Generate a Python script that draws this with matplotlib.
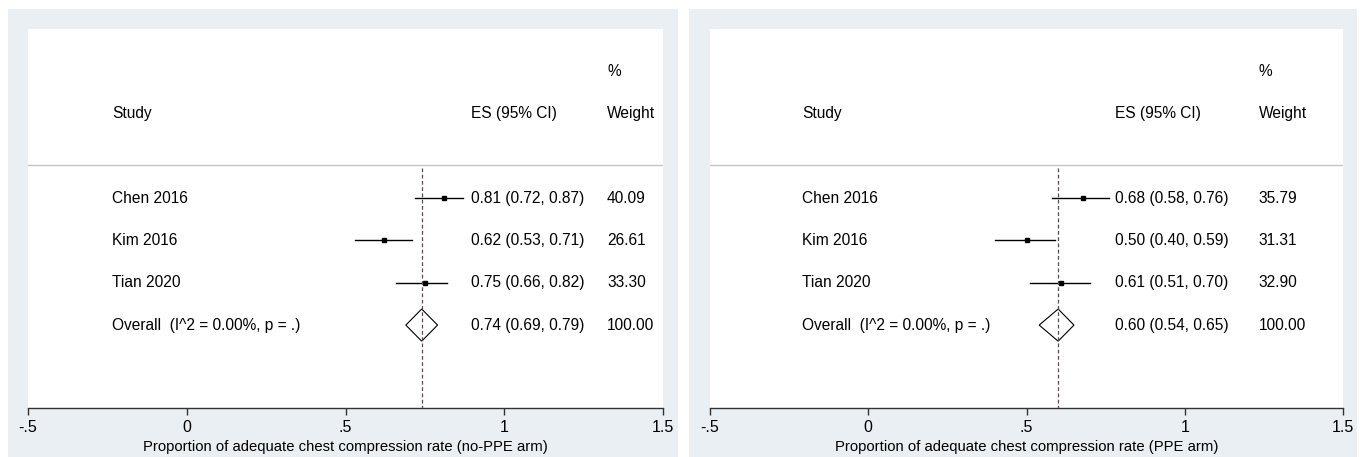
import matplotlib.pyplot as plt
from matplotlib.patches import Rectangle, Polygon
from matplotlib.transforms import blended_transform_factory

plt.rcParams['font.family'] = ['Liberation Sans', 'DejaVu Sans']

# study-level estimates, 95% CI and weights for each arm
studies = ['Chen 2016', 'Kim 2016', 'Tian 2020']

nopp_es = [0.81, 0.62, 0.75]
nopp_lo = [0.72, 0.53, 0.66]
nopp_hi = [0.87, 0.71, 0.82]
nopp_w = [40.09, 26.61, 33.30]
nopp_overall = [0.74, 0.69, 0.79]

ppe_es = [0.68, 0.50, 0.61]
ppe_lo = [0.58, 0.40, 0.51]
ppe_hi = [0.76, 0.59, 0.70]
ppe_w = [35.79, 31.31, 32.90]
ppe_overall = [0.60, 0.54, 0.65]

overall_label = 'Overall  (I^2 = 0.00%, p = .)'
xticks = [-0.5, 0, 0.5, 1, 1.5]
xticklabels = ['-.5', '0', '.5', '1', '1.5']

BG = '#e9eff2'
FS = 11.2

W, H = 1365, 457
fig = plt.figure(figsize=(W / 100, H / 100), dpi=100)
fig.patch.set_facecolor('white')


def panel(px0, px1, ax0, ax1, es, lo, hi, wt, overall, xlabel, cols):
    # light outer frame behind each graph
    fig.patches.append(Rectangle((px0 / W, 0), (px1 - px0) / W, (H - 9) / H,
                                 transform=fig.transFigure, facecolor=BG,
                                 edgecolor='none', zorder=-10))
    ax = fig.add_axes([ax0 / W, (H - 408) / H, (ax1 - ax0) / W, (408 - 29) / H])
    ax.set_zorder(1)
    ax.set_facecolor('white')
    ax.set_xlim(-0.5, 1.5)
    ax.set_ylim(4.96, -4.0)
    for s in ['top', 'left', 'right']:
        ax.spines[s].set_visible(False)
    ax.spines['bottom'].set_color('#333333')
    ax.spines['bottom'].set_linewidth(1.0)
    ax.set_yticks([])
    ax.set_xticks(xticks)
    ax.set_xticklabels(xticklabels, fontsize=11.5)
    ax.tick_params(axis='x', direction='out', length=5, width=1,
                   color='#333333', pad=3.5)
    ax.set_xlabel(xlabel, fontsize=10.7, labelpad=4)

    tr = blended_transform_factory(ax.transAxes, ax.transData)
    c_study, c_es, c_w = cols

    # header
    ax.text(c_w, -3, '%', transform=tr, fontsize=FS, va='center')
    ax.text(c_study, -2, 'Study', transform=tr, fontsize=FS, va='center')
    ax.text(c_es, -2, 'ES (95% CI)', transform=tr, fontsize=FS, va='center')
    ax.text(c_w, -2, 'Weight', transform=tr, fontsize=FS, va='center')
    ax.axhline(-0.78, color='#c4c4c4', lw=1)

    # studies
    for i, name in enumerate(studies):
        ax.plot([lo[i], hi[i]], [i, i], color='black', lw=1)
        ax.plot(es[i], i, marker='s', ms=2.4, color='black')
        ax.text(c_study, i, name, transform=tr, fontsize=FS, va='center')
        ax.text(c_es, i, f'{es[i]:.2f} ({lo[i]:.2f}, {hi[i]:.2f})',
                transform=tr, fontsize=FS, va='center')
        ax.text(c_w, i, f'{wt[i]:.2f}', transform=tr, fontsize=FS, va='center')

    # pooled estimate
    oe, ol, oh = overall
    r = len(studies)
    ax.plot([oe, oe], [-0.72, 4.96], color='#5a4a4a', lw=0.9,
            ls=(0, (3, 2)))
    ax.add_patch(Polygon([(ol, r), (oe, r - 0.38), (oh, r), (oe, r + 0.38)],
                         closed=True, facecolor='none', edgecolor='black',
                         lw=0.8))
    ax.text(c_study, r, overall_label, transform=tr, fontsize=FS, va='center')
    ax.text(c_es, r, f'{oe:.2f} ({ol:.2f}, {oh:.2f})', transform=tr,
            fontsize=FS, va='center')
    ax.text(c_w, r, f'{sum(wt):.2f}', transform=tr, fontsize=FS, va='center')
    return ax


panel(8, 678, 28, 663, nopp_es, nopp_lo, nopp_hi, nopp_w, nopp_overall,
      'Proportion of adequate chest compression rate (no-PPE arm)',
      (0.1325, 0.697, 0.912))
panel(689, 1357, 710, 1343, ppe_es, ppe_lo, ppe_hi, ppe_w, ppe_overall,
      'Proportion of adequate chest compression rate (PPE arm)',
      (0.145, 0.640, 0.867))

fig.savefig('out.png', dpi=100)
